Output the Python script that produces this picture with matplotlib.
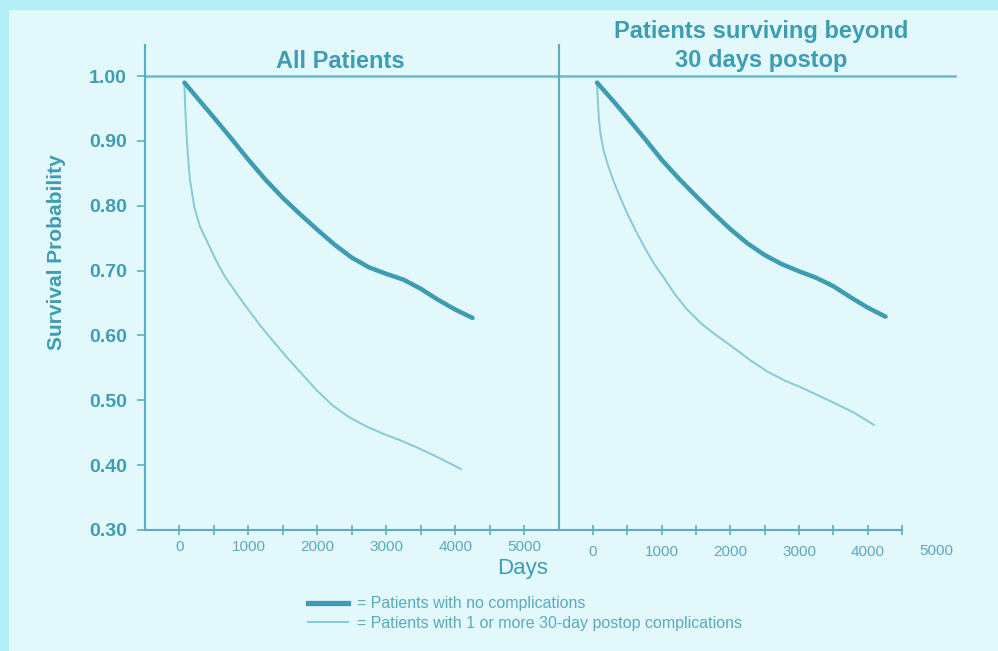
import numpy as np
import matplotlib.pyplot as plt
from matplotlib.patches import Rectangle
from matplotlib.lines import Line2D
import matplotlib.transforms as mtransforms

plt.rcParams['font.family'] = ['Liberation Sans', 'DejaVu Sans']

# Kaplan-Meier estimates, all patients
days_all_nocomp = [72, 300, 500, 750, 1000, 1250, 1500, 1750, 2000, 2250, 2500, 2750, 3000, 3250, 3500, 3750, 4000, 4251]
surv_all_nocomp = [0.990, 0.961, 0.936, 0.904, 0.871, 0.840, 0.812, 0.787, 0.763, 0.740, 0.720, 0.705, 0.695, 0.686, 0.672, 0.655, 0.640, 0.627]
days_all_comp = [70, 84, 100, 120, 152, 217, 297, 410, 520, 652, 820, 990, 1180, 1377, 1560, 1739, 1985, 2222,
                 2460, 2705, 2940, 3188, 3430, 3671, 3900, 4082]
surv_all_comp = [0.990, 0.950, 0.915, 0.880, 0.840, 0.797, 0.768, 0.743, 0.718, 0.692, 0.666, 0.641, 0.614, 0.589,
                 0.566, 0.545, 0.516, 0.492, 0.474, 0.460, 0.449, 0.439, 0.428, 0.416, 0.404, 0.394]

# patients surviving beyond 30 days postop
days_30d_nocomp = [58, 300, 500, 750, 1000, 1250, 1500, 1750, 2000, 2250, 2500, 2750, 3000, 3250, 3500, 3750, 4000, 4261]
surv_30d_nocomp = [0.990, 0.961, 0.936, 0.904, 0.871, 0.842, 0.815, 0.789, 0.764, 0.742, 0.724, 0.710, 0.699, 0.689, 0.676, 0.659, 0.643, 0.629]
days_30d_comp = [58, 70, 85, 110, 155, 220, 300, 400, 500, 620, 750, 880, 1025, 1190, 1362, 1580, 1800, 2062,
                 2300, 2546, 2800, 3029, 3250, 3512, 3800, 4091]
surv_30d_comp = [0.990, 0.962, 0.935, 0.910, 0.885, 0.862, 0.838, 0.812, 0.788, 0.762, 0.736, 0.712, 0.690, 0.664,
                 0.641, 0.618, 0.600, 0.580, 0.561, 0.544, 0.530, 0.520, 0.509, 0.496, 0.481, 0.462]

y_ticks = [0.30, 0.40, 0.50, 0.60, 0.70, 0.80, 0.90, 1.00]
panel_titles = ["All Patients", "Patients surviving beyond\n30 days postop"]
legend_labels = ["= Patients with no complications",
                 "= Patients with 1 or more 30-day postop complications"]

bg = '#e3f8fb'
edge = '#b1eef5'
thick_col = '#3b9cb2'
thin_col = '#85cad7'
axis_col = '#5aaec1'
text_col = '#3d9db3'
light_text = '#5aaabd'

fig = plt.figure(figsize=(9.98, 6.51), dpi=100, facecolor=bg)
# frame strips on top and left
fig.patches.append(Rectangle((0, 0), 0.0083, 1, transform=fig.transFigure, color=edge, zorder=0))
fig.patches.append(Rectangle((0, 1 - 0.0138), 1, 0.0138, transform=fig.transFigure, color=edge, zorder=0))

ax1 = fig.add_axes([0.1453, 0.1859, 0.4145, 0.745])
ax2 = fig.add_axes([0.5598, 0.1859, 0.344, 0.745])

for ax in (ax1, ax2):
    ax.set_facecolor('none')
    ax.spines['top'].set_visible(False)
    ax.spines['right'].set_visible(False)
    for s in ('left', 'bottom'):
        ax.spines[s].set_color(axis_col)
        ax.spines[s].set_linewidth(1.5)
    ax.set_ylim(0.30, 1.048)
    ax.tick_params(axis='x', which='both', direction='inout', length=7, width=1.2,
                   color=axis_col, labelsize=11, labelcolor=light_text)

ax1.set_xlim(-500, 5500)
ax2.set_xlim(-500, 4500)

ax1.plot(days_all_comp, surv_all_comp, color=thin_col, lw=1.4)
ax1.plot(days_all_nocomp, surv_all_nocomp, color=thick_col, lw=3.2, solid_capstyle='round')
ax2.plot(days_30d_comp, surv_30d_comp, color=thin_col, lw=1.4)
ax2.plot(days_30d_nocomp, surv_30d_nocomp, color=thick_col, lw=3.2, solid_capstyle='round')

ax1.axhline(1.0, color=axis_col, lw=1.8, alpha=0.85)
ax2.axhline(1.0, xmin=0, xmax=1.154, color=axis_col, lw=1.8, alpha=0.85, clip_on=False)

# y axis
ax1.set_yticks(y_ticks)
ax1.set_yticklabels([f"{v:.2f}" for v in y_ticks], fontsize=14, fontweight='bold', color=text_col)
ax1.tick_params(axis='y', direction='out', length=6, width=1.2, color=axis_col, pad=7)
ax2.tick_params(axis='y', left=False, labelleft=False)

# x axis
ax1.set_xticks(range(0, 5001, 1000))
ax1.set_xticks(range(500, 5001, 1000), minor=True)
ax1.tick_params(axis='x', pad=4)
ax2.set_xticks(range(0, 4001, 1000))
ax2.set_xticks(range(500, 4501, 1000), minor=True)
ax2.tick_params(axis='x', pad=7.5)
trans = mtransforms.blended_transform_factory(ax2.transData, ax2.transAxes)
ax2.text(5000, -0.0285, "5000", transform=trans, ha='center', va='top',
         fontsize=11, color=light_text, clip_on=False)

fig.text(0.3407, 0.906, panel_titles[0], ha='center', va='center',
         fontsize=17, fontweight='bold', color=text_col)
fig.text(0.7632, 0.929, panel_titles[1], ha='center', va='center', linespacing=1.32,
         fontsize=17, fontweight='bold', color=text_col)
fig.text(0.0571, 0.613, "Survival Probability", rotation=90, ha='center', va='center',
         fontsize=15, fontweight='bold', color=text_col)
fig.text(0.524, 0.126, "Days", ha='center', va='center', fontsize=16, color=text_col)

handles = [Line2D([], [], color=thick_col, lw=3.8),
           Line2D([], [], color=thin_col, lw=1.4)]
fig.legend(handles, legend_labels, loc='upper left', bbox_to_anchor=(0.3086, 0.084),
           frameon=False, fontsize=11.5, handlelength=2.5, handletextpad=0.55,
           labelspacing=0.27, borderpad=0, borderaxespad=0, labelcolor=light_text)

fig.savefig('out.png', dpi=100, facecolor=bg)
